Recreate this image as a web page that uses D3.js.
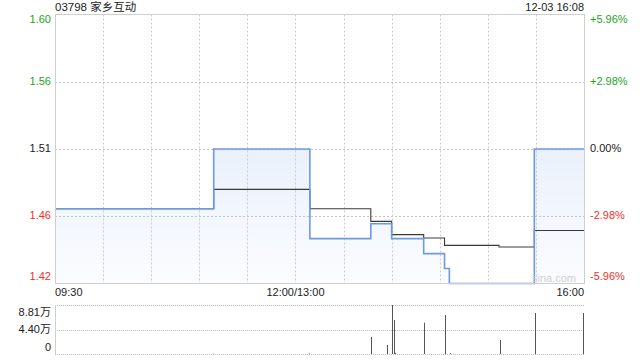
<!DOCTYPE html>
<html>
<head>
<meta charset="utf-8">
<script src="https://d3js.org/d3.v7.min.js"></script>
<style>
  body { margin: 0; background: #fff; }
  text { font-family: "Liberation Sans", Arial, "Noto Sans CJK SC", sans-serif; font-size: 11px; }
</style>
</head>
<body>
<script>
// chart data
var title = "03798 家乡互动";
var stamp = "12-03 16:08";
var preClose = 1.51;
var pctTicks = [0.0596, 0.0298, 0, -0.0298, -0.0596];
var priceLabels = ["1.60", "1.56", "1.51", "1.46", "1.42"];
var pctLabels = ["+5.96%", "+2.98%", "0.00%", "-2.98%", "-5.96%"];
var timeLabels = ["09:30", "12:00/13:00", "16:00"];

// price (blue) and average price (black), at the minutes where they change
var times = ["09:30", "11:09", "13:09", "13:47", "14:00", "14:20", "14:33", "14:36", "15:07", "15:29", "16:00"];
var price = [1.47, 1.51, 1.45, 1.46, 1.45, 1.44, 1.43, 1.42, 1.42, 1.51, 1.51];
var avgPrice = [1.47, 1.483, 1.470, 1.4616, 1.4527, 1.4504, 1.4455, 1.4455, 1.4444, 1.4555, 1.4555];

// volume, in 万 shares
var volTimes = ["11:09", "13:09", "13:48", "13:58", "14:01", "14:02", "14:03", "14:21", "14:34", "14:37", "15:08", "15:30", "16:00"];
var volume = [0.05, 0.1, 3.06, 1.62, 8.81, 6.11, 0.2, 5.63, 7.01, 0.15, 2.52, 7.37, 7.37];
var volMax = 8.81;
var volLabels = ["8.81万", "4.40万", "0"];

var W = 640, H = 360;
var pLeft = 55, pRight = 584, pTop = 14.5, pBottom = 283.5;
var vTop = 305, vBottom = 354;

function minuteOf(t) {
  var p = t.split(":"), h = +p[0], m = +p[1];
  var mins = h * 60 + m;
  if (mins >= 13 * 60) return mins - 13 * 60 + 150;
  return mins - (9 * 60 + 30);
}

var x = d3.scaleLinear().domain([0, 330]).range([pLeft, pRight]);
var y = d3.scaleLinear().domain([preClose * (1 - 0.0596), preClose * (1 + 0.0596)]).range([pBottom, pTop]);
var yv = d3.scaleLinear().domain([0, volMax]).range([vBottom, vTop]);

var svg = d3.select("body").append("svg").attr("width", W).attr("height", H);

var grad = svg.append("defs").append("linearGradient")
  .attr("id", "fillGrad").attr("gradientUnits", "userSpaceOnUse")
  .attr("x1", 0).attr("x2", 0).attr("y1", pTop).attr("y2", pBottom);
grad.append("stop").attr("offset", 0).attr("stop-color", "#d9e5f8");
grad.append("stop").attr("offset", 1).attr("stop-color", "#fbfcff");

var tickVals = pctTicks.map(function(p) { return preClose * (1 + p); });
function tickColor(i) {
  if (pctTicks[i] > 0) return "#1ea51e";
  if (pctTicks[i] < 0) return "#f0302a";
  return "#222";
}

// area under price
var pts = times.map(function(t, i) { return { m: minuteOf(t), p: price[i], a: avgPrice[i] }; });
var area = d3.area().curve(d3.curveStepAfter)
  .x(function(d) { return x(d.m); })
  .y0(pBottom)
  .y1(function(d) { return y(d.p); });
svg.append("path").datum(pts).attr("d", area).attr("fill", "url(#fillGrad)");

// vertical grid every 30 minutes
var vGrid = d3.range(30, 330, 30);
svg.selectAll(".vgrid").data(vGrid).enter().append("line")
  .attr("x1", function(d) { return Math.round(x(d)) + 0.5; })
  .attr("x2", function(d) { return Math.round(x(d)) + 0.5; })
  .attr("y1", pTop).attr("y2", pBottom)
  .attr("stroke", "#ccc").attr("stroke-dasharray", "2,2");

// horizontal grid
svg.selectAll(".hgrid").data(tickVals.slice(1, 4)).enter().append("line")
  .attr("x1", pLeft).attr("x2", pRight)
  .attr("y1", function(d) { return Math.round(y(d)) + 0.5; })
  .attr("y2", function(d) { return Math.round(y(d)) + 0.5; })
  .attr("stroke", "#c4c4c4").attr("stroke-dasharray", "2,2");

// average line
var avgLine = d3.line().curve(d3.curveStepAfter)
  .x(function(d) { return x(d.m); })
  .y(function(d) { return y(d.a); });
svg.append("path").datum(pts).attr("d", avgLine)
  .attr("fill", "none").attr("stroke", "#3a3a3a").attr("stroke-width", 1.1);

// price line
var priceLine = d3.line().curve(d3.curveStepAfter)
  .x(function(d) { return x(d.m); })
  .y(function(d) { return y(d.p); });
svg.append("path").datum(pts).attr("d", priceLine)
  .attr("fill", "none").attr("stroke", "#6b9ae4").attr("stroke-width", 1.6);

// border of main plot
svg.append("rect").attr("x", pLeft + 0.5).attr("y", pTop).attr("width", pRight - pLeft).attr("height", pBottom - pTop)
  .attr("fill", "none").attr("stroke", "#cfcfcf");

// watermark
svg.append("text").attr("x", 532).attr("y", 279).attr("dominant-baseline", "middle")
  .attr("fill", "#d0d0d0").text("sina.com");

// y labels
function labelOffset(i) { return i === 0 ? 6 : (i === tickVals.length - 1 ? -6 : 0); }
svg.selectAll(".yl").data(tickVals).enter().append("text")
  .attr("x", 51).attr("text-anchor", "end").attr("dominant-baseline", "middle")
  .attr("y", function(d, i) { return y(d) + labelOffset(i); })
  .attr("fill", function(d, i) { return tickColor(i); })
  .text(function(d, i) { return priceLabels[i]; });
svg.selectAll(".yr").data(tickVals).enter().append("text")
  .attr("x", 590).attr("dominant-baseline", "middle")
  .attr("y", function(d, i) { return y(d) + labelOffset(i); })
  .attr("fill", function(d, i) { return tickColor(i); })
  .text(function(d, i) { return pctLabels[i]; });

// title + time stamp
svg.append("text").attr("x", pLeft).attr("y", 8).attr("dominant-baseline", "middle")
  .attr("fill", "#222").style("font-size", "11.5px").text(title);
svg.append("text").attr("x", pRight).attr("y", 8).attr("text-anchor", "end").attr("dominant-baseline", "middle")
  .attr("fill", "#222").text(stamp);

// time labels
var timeMin = [0, 150, 330];
var anchors = ["start", "middle", "end"];
svg.selectAll(".xl").data(timeLabels).enter().append("text")
  .attr("x", function(d, i) { return x(timeMin[i]); })
  .attr("y", 293).attr("dominant-baseline", "middle")
  .attr("text-anchor", function(d, i) { return anchors[i]; })
  .attr("fill", "#222").text(function(d) { return d; });

// volume panel
var vTicks = [volMax, volMax / 2, 0];
svg.selectAll(".vg").data(vTicks).enter().append("line")
  .attr("x1", pLeft).attr("x2", pRight)
  .attr("y1", function(d) { return Math.round(yv(d)) + 0.5; })
  .attr("y2", function(d) { return Math.round(yv(d)) + 0.5; })
  .attr("stroke", "#bdbdbd").attr("stroke-dasharray", "1,1");
svg.append("line").attr("x1", pLeft + 0.5).attr("x2", pLeft + 0.5).attr("y1", vTop).attr("y2", vBottom)
  .attr("stroke", "#cfcfcf");
svg.selectAll(".vbar").data(volume).enter().append("line")
  .attr("x1", function(d, i) { return Math.round(x(minuteOf(volTimes[i]))) - 0.5; })
  .attr("x2", function(d, i) { return Math.round(x(minuteOf(volTimes[i]))) - 0.5; })
  .attr("y1", vBottom)
  .attr("y2", function(d) { return yv(d); })
  .attr("stroke", "#555").attr("stroke-width", 1);
var vOff = [8, 1, -6];
svg.selectAll(".vl").data(vTicks).enter().append("text")
  .attr("x", 51).attr("text-anchor", "end").attr("dominant-baseline", "middle")
  .attr("y", function(d, i) { return yv(d) + vOff[i]; })
  .attr("fill", "#222").text(function(d, i) { return volLabels[i]; });
</script>
</body>
</html>
